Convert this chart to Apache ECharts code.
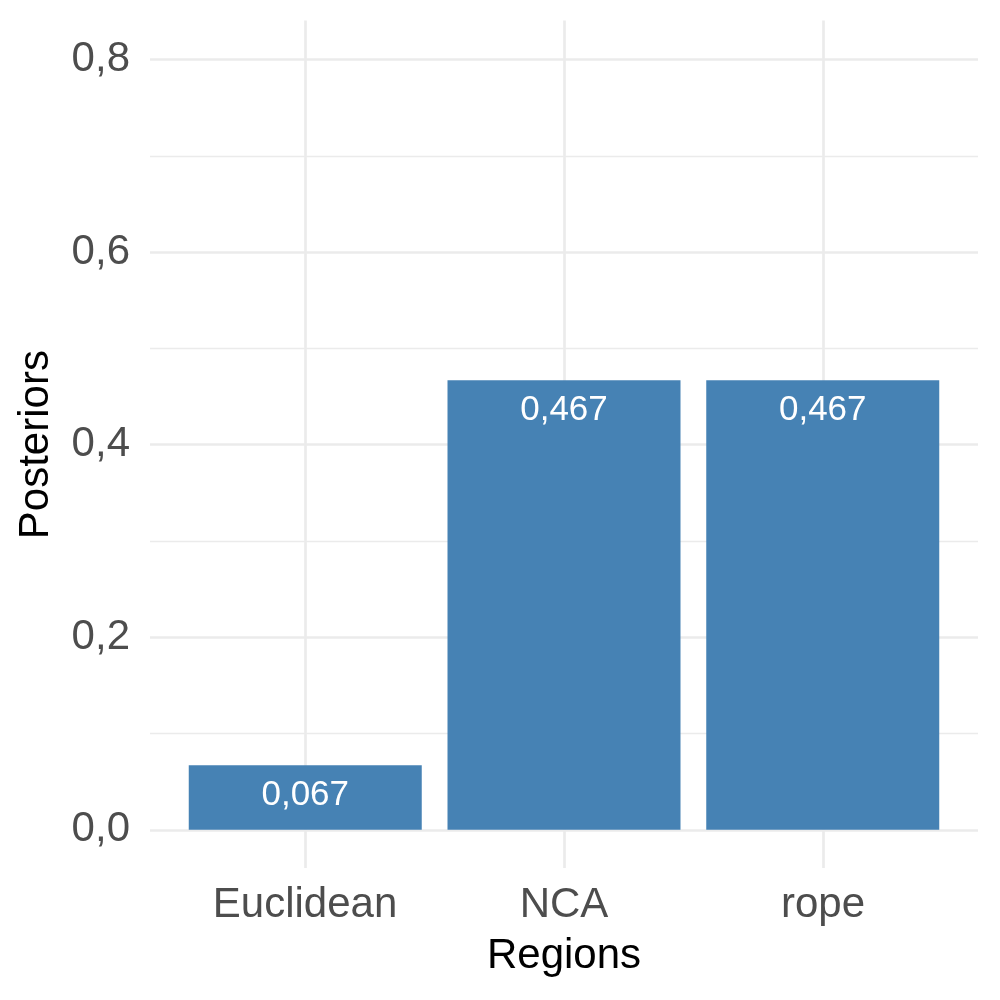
<!DOCTYPE html>
<html>
<head>
<meta charset="utf-8">
<script src="https://cdn.jsdelivr.net/npm/echarts@6/dist/echarts.min.js"></script>
<style>html,body{margin:0;padding:0;background:#fff}#c{width:1000px;height:1000px}</style>
</head>
<body>
<div id="c"></div>
<script>
var categories = ['Euclidean', 'NCA', 'rope'];
var posteriors = [0.067, 0.467, 0.467];
var yMin = 0, yMax = 0.8, yStep = 0.2;

var FONT = 'Liberation Sans, Helvetica, Arial, sans-serif';
var GRID_COLOR = '#ebebeb';
function comma(v, d) { return v.toFixed(d).replace('.', ','); }

var chart = echarts.init(document.getElementById('c'), null, { renderer: 'canvas' });
chart.setOption({
  animation: false,
  backgroundColor: '#ffffff',
  textStyle: { fontFamily: FONT },
  grid: [
    { left: 150, right: 22, top: 59.5, bottom: 170.2 },
    { left: 305, right: 177, top: 20.5, bottom: 132 }
  ],
  xAxis: [
    { gridIndex: 0, type: 'value', min: -0.6, max: 2.6, show: false },
    {
      gridIndex: 1, type: 'category', data: categories, boundaryGap: false,
      axisLine: { show: false }, axisTick: { show: false },
      axisLabel: { fontSize: 42, color: '#4d4d4d', margin: 16, fontFamily: FONT, interval: 0 },
      splitLine: { show: true, lineStyle: { color: GRID_COLOR, width: 2.7 } },
      name: 'Regions', nameLocation: 'middle', nameGap: 67,
      nameTextStyle: { fontSize: 42, color: '#000000', fontFamily: FONT }
    }
  ],
  yAxis: [
    {
      gridIndex: 0, type: 'value', min: yMin, max: yMax, interval: yStep,
      axisLine: { show: false }, axisTick: { show: false },
      axisLabel: { fontSize: 42, color: '#4d4d4d', margin: 20, fontFamily: FONT,
        formatter: function (v) { return comma(v, 1); } },
      splitLine: { show: true, lineStyle: { color: GRID_COLOR, width: 2.7 } },
      minorTick: { show: false, splitNumber: 2 },
      minorSplitLine: { show: true, lineStyle: { color: GRID_COLOR, width: 1.3 } },
      name: 'Posteriors', nameLocation: 'middle', nameGap: 93,
      nameTextStyle: { fontSize: 42, color: '#000000', fontFamily: FONT }
    },
    { gridIndex: 1, type: 'value', min: 0, max: 1, show: false, splitLine: { show: false } }
  ],
  series: [{
    type: 'bar',
    xAxisIndex: 0, yAxisIndex: 0,
    barWidth: 233,
    itemStyle: { color: '#4682b4' },
    label: {
      show: true, position: 'insideTop', distance: 13,
      fontSize: 35, color: '#ffffff', fontFamily: FONT,
      formatter: function (p) { return comma(p.value[1], 3); }
    },
    data: posteriors.map(function (v, i) { return [i, v]; })
  }]
});
</script>
</body>
</html>
